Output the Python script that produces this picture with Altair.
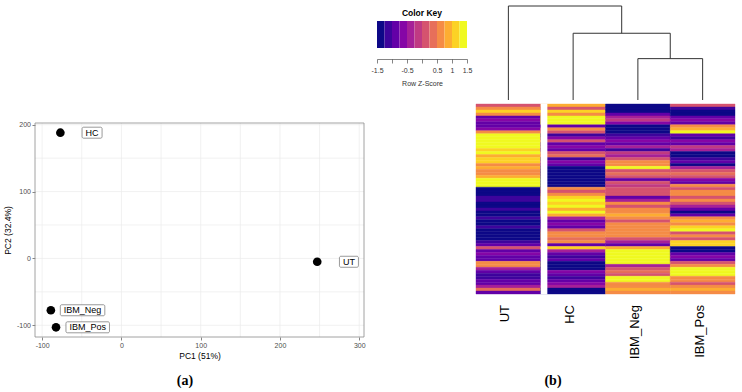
import altair as alt
import pandas as pd
import numpy as np

W, H = 742, 392

# ---------------- data ----------------
samples = ["HC", "UT", "IBM_Neg", "IBM_Pos"]
pc1 = [-77, 247, -89, -82.5]
pc2 = [188, -5, -77.5, -103]
pc1_major = [-100, 0, 100, 200, 300]
pc1_minor = [-50, 50, 150, 250]
pc2_major = [-100, 0, 100, 200]
pc2_minor = [-50, 50, 150]

heat_columns = ["UT", "HC", "IBM_Neg", "IBM_Pos"]
z_ut = [0.2, 0.7, 1.0, 0.6, -1.0, -0.7, -1.0, -0.9, -0.6, 0.7,
        1.5, 1.5, 1.5, 1.4, 1.5, 1.0, 1.3, 0.8, 1.2, 1.0,
        0.6, 0.8, 0.6, 0.5, 0.9, 1.4, 1.5, 1.3, -1.5, -1.5,
        -1.5, -1.1, -1.1, -1.5, -1.5, -1.1, -1.4, -1.5, -1.1, -1.5,
        -1.4, -1.1, -1.5, -1.5, -1.5, -1.5, -1.1, -1.0, 0.0, -1.0,
        -0.6, -1.0, -0.9, 0.5, 0.7, -0.5, -1.0, -1.1, -1.2, -1.0,
        -1.0, -0.4, 0.4, -0.9]
z_hc = [0.8, 0.2, 1.0, 0.6, 1.5, 1.5, 1.4, -1.0, 0.5, 0.1,
        -1.1, -0.6, 0.0, -0.9, -0.7, -1.0, 0.1, 0.4, -1.1, -0.6,
        -1.0, -1.5, -1.5, -1.5, -1.5, -1.5, -1.5, -1.5, 0.6, 0.2,
        0.7, 1.0, 1.4, 1.0, 1.3, 0.8, 1.5, 0.9, -0.4, -0.9,
        -0.6, -0.9, 0.2, 0.6, 0.7, 0.3, 0.5, -1.0, 1.2, -0.5,
        -1.0, -1.1, -0.9, -1.5, -1.5, -1.5, -0.6, -0.9, -1.1, -1.0,
        -0.6, -0.5, -1.5, -1.5]
z_ibm_neg = [-1.5, -1.5, -1.4, -0.9, -0.5, -0.2, -0.6, -1.5, -1.3, -1.5,
             -1.1, -0.9, -0.6, -1.0, -0.5, -1.2, -0.1, -0.4, 0.0, 0.5,
             0.7, 1.4, 0.1, 0.4, 0.0, -0.8, 0.1, -0.1, 0.2, 0.0,
             0.1, -1.0, -0.4, 0.5, 0.0, 0.7, 0.5, 0.9, 0.6, 0.2,
             0.5, 0.7, 0.6, 0.6, 0.5, 0.2, -0.3, -0.8, 0.8, 1.5,
             1.5, 1.5, 1.4, 1.5, -0.4, 0.1, 0.4, 0.0, 1.3, 1.4,
             0.7, 0.6, 0.9, 0.5]
z_ibm_pos = [0.0, -1.1, -1.5, -1.3, -0.9, -0.6, -1.0, 0.6, 0.9, 1.5,
             -1.0, -1.1, -0.7, -0.9, -0.2, -0.5, -1.5, -1.5, -1.2, -1.0,
             -1.3, -0.4, 0.0, 0.4, 0.1, -0.6, -0.9, 0.5, 0.2, 0.7,
             0.5, 0.2, 0.6, 0.1, -0.5, -1.0, -1.4, -1.0, 0.6, 0.8,
             0.5, 1.0, 1.4, 0.2, 0.5, 0.1, 1.2, 1.0, -1.5, -1.4,
             -1.0, -0.7, -0.9, 0.0, 0.5, 1.3, 1.5, 1.4, 0.6, 0.7,
             0.2, 0.5, 0.9, 0.6]

# hclust-style merge table (negative = leaf, positive = earlier merge)
merge_pairs = [(-3, -4), (-2, 1), (-1, 2)]
merge_heights = [0.44, 0.71, 1.0]

key_ticks = [-1.5, -1.0, -0.5, 0.0, 0.5, 1.0, 1.5]

# ---------------- styles / layout ----------------
plasma12 = ["#0D0887", "#3E049C", "#6300A7", "#8606A6", "#A62098", "#C03A83",
            "#D5536F", "#E76F5A", "#F58C46", "#FDAD32", "#FCD225", "#F0F921"]
FONT = "Liberation Sans"

PX_L, PX_R, PY_T, PY_B = 35, 364, 123, 337
XDOM, YDOM = [-109, 306], [-117.5, 202.5]


def xs():
    return alt.Scale(domain=XDOM, range=[PX_L, PX_R], nice=False, zero=False)


def ys():
    return alt.Scale(domain=YDOM, range=[PY_B, PY_T], nice=False, zero=False)


# ---------------- panel (a): PCA ----------------
vgrid = pd.DataFrame({"v": pc1_major + pc1_minor})
hgrid = pd.DataFrame({"v": pc2_major + pc2_minor})

vlines = alt.Chart(vgrid).mark_rule(color="#EBEBEB", strokeWidth=0.7).encode(
    x=alt.X("v:Q", scale=xs(), axis=None),
    y=alt.Y(datum=YDOM[0], scale=ys(), axis=None),
    y2=alt.Y2(datum=YDOM[1]),
)
hlines = alt.Chart(hgrid).mark_rule(color="#EBEBEB", strokeWidth=0.7).encode(
    y=alt.Y("v:Q", scale=ys(), axis=None),
    x=alt.X(datum=XDOM[0], scale=xs(), axis=None),
    x2=alt.X2(datum=XDOM[1]),
)
border = alt.Chart(pd.DataFrame({"a": [0]})).mark_rect(
    fill=None, stroke="#8C8C8C", strokeWidth=0.8).encode(
    x=alt.X(datum=XDOM[0], scale=xs(), axis=None), x2=alt.X2(datum=XDOM[1]),
    y=alt.Y(datum=YDOM[0], scale=ys(), axis=None), y2=alt.Y2(datum=YDOM[1]),
)

pts = pd.DataFrame({"sample": samples, "pc1": pc1, "pc2": pc2})
points = alt.Chart(pts).mark_circle(size=75, color="black", opacity=1).encode(
    x=alt.X("pc1:Q", scale=xs(), axis=alt.Axis(
        orient="bottom", offset=PY_B - H, values=pc1_major, grid=False, domain=False,
        tickSize=3, tickColor="#333333", tickWidth=0.6, labelFontSize=7,
        labelColor="#4D4D4D", labelFont=FONT, labelPadding=1.5,
        labelExpr="toString(datum.value)", labelFlush=False, labelOverlap=False,
        title="PC1 (51%)", titleFont=FONT, titleFontSize=8.5, titleFontWeight="normal",
        titleColor="black", titlePadding=3)),
    y=alt.Y("pc2:Q", scale=ys(), axis=alt.Axis(
        orient="left", offset=-PX_L, values=pc2_major, grid=False, domain=False,
        tickSize=3, tickColor="#333333", tickWidth=0.6, labelFontSize=7,
        labelColor="#4D4D4D", labelFont=FONT, labelPadding=1.5,
        labelExpr="toString(datum.value)", labelFlush=False, labelOverlap=False,
        title="PC2 (32.4%)", titleFont=FONT, titleFontSize=8.5, titleFontWeight="normal",
        titleColor="black", titlePadding=4)),
)

# label boxes (geom_label-like), nudged right
NUDGE = 40
LABEL_FS = 9
arial = {"H": 722, "C": 722, "U": 722, "T": 611, "I": 278, "B": 667, "M": 833,
         "_": 556, "N": 722, "e": 556, "g": 556, "P": 667, "o": 556, "s": 500}
ux = (XDOM[1] - XDOM[0]) / (PX_R - PX_L)
uy = (YDOM[1] - YDOM[0]) / (PY_B - PY_T)
lab = pts.copy()
lab["lx"] = lab["pc1"] + NUDGE
wpx = lab["sample"].map(lambda s: sum(arial.get(c, 600) for c in s) * LABEL_FS / 1000 + 7)
lab["x1"] = lab["lx"] - wpx * ux / 2
lab["x2"] = lab["lx"] + wpx * ux / 2
lab["y1"] = lab["pc2"] - 5.5 * uy
lab["y2"] = lab["pc2"] + 5.5 * uy

boxes = alt.Chart(lab).mark_rect(fill="white", stroke="#555555", strokeWidth=0.6,
                                 cornerRadius=1.5).encode(
    x=alt.X("x1:Q", scale=xs(), axis=None), x2="x2:Q",
    y=alt.Y("y1:Q", scale=ys(), axis=None), y2="y2:Q",
)
labels = alt.Chart(lab).mark_text(fontSize=LABEL_FS, font=FONT, color="black",
                                  align="center", baseline="middle").encode(
    x=alt.X("lx:Q", scale=xs(), axis=None),
    y=alt.Y("pc2:Q", scale=ys(), axis=None),
    text="sample:N",
)

# ---------------- panel (b): heatmap ----------------
NROW = len(z_ut)


def hx():
    return alt.Scale(domain=[-0.5, 3.5], range=[476, 735], nice=False, zero=False)


def hy():
    return alt.Scale(domain=[-0.5, NROW - 0.5], range=[104, 294], nice=False, zero=False)


def cscale():
    return alt.Scale(type="quantize", domain=[-1.5, 1.5], range=plasma12, nice=False, zero=False)


recs = []
for ci, vals in enumerate([z_ut, z_hc, z_ibm_neg, z_ibm_pos]):
    for ri, v in enumerate(vals):
        recs.append({"c": ci, "r": ri, "z": v})
hdf = pd.DataFrame(recs)
hdf["x1"] = hdf["c"] - 0.5
hdf["x2"] = hdf["c"] + 0.5
hdf["y1"] = hdf["r"] - 0.5
hdf["y2"] = hdf["r"] + 0.5

cells = alt.Chart(hdf).mark_rect(strokeWidth=0.4).encode(
    x=alt.X("x1:Q", scale=hx(), axis=None), x2="x2:Q",
    y=alt.Y("y1:Q", scale=hy(), axis=None), y2="y2:Q",
    color=alt.Color("z:Q", scale=cscale(), legend=None),
    stroke=alt.Stroke("z:Q", scale=cscale(), legend=None),
)
sep = alt.Chart(pd.DataFrame({"a": [0]})).mark_rule(
    color="white", strokeWidth=6.6, xOffset=3.3).encode(
    x=alt.X(datum=0.5, scale=hx(), axis=None),
    y=alt.Y(datum=-0.7, scale=hy(), axis=None), y2=alt.Y2(datum=NROW - 0.3),
)
coldf = pd.DataFrame({"c": list(range(4)), "name": heat_columns})
collabels = alt.Chart(coldf).mark_text(
    angle=270, align="right", baseline="middle", fontSize=13, font=FONT,
    color="black", dx=-11, dy=-3).encode(
    x=alt.X("c:Q", scale=hx(), axis=None),
    y=alt.Y(datum=NROW - 0.5, scale=hy(), axis=None),
    text="name:N",
)

# dendrogram
node_x, node_h = {}, {}
segs = []


def node(n):
    if n < 0:
        return float(-n - 1), 0.0
    return node_x[n], node_h[n]


for k, ((a, b), h) in enumerate(zip(merge_pairs, merge_heights), start=1):
    xa, ha = node(a)
    xb, hb = node(b)
    segs += [(xa, xa, ha, h), (xb, xb, hb, h), (xa, xb, h, h)]
    node_x[k], node_h[k] = (xa + xb) / 2, h
ddf = pd.DataFrame(segs, columns=["x1", "x2", "y1", "y2"])
dendro = alt.Chart(ddf).mark_rule(color="#333333", strokeWidth=1).encode(
    x=alt.X("x1:Q", scale=hx(), axis=None), x2="x2:Q",
    y=alt.Y("y1:Q", scale=alt.Scale(domain=[0, 1], range=[100, 6], nice=False, zero=False),
            axis=None), y2="y2:Q",
)

# colour key
edges = np.linspace(-1.5, 1.5, len(plasma12) + 1)
kdf = pd.DataFrame({"x1": edges[:-1], "x2": edges[1:]})
kdf["mid"] = (kdf["x1"] + kdf["x2"]) / 2
key = alt.Chart(kdf).mark_rect().encode(
    x=alt.X("x1:Q", scale=alt.Scale(domain=[-1.5, 1.5], range=[377, 467], nice=False, zero=False),
            axis=alt.Axis(
        orient="bottom", offset=59 - H, values=key_ticks, grid=False, domain=True,
        domainColor="#333333", domainWidth=0.6, tickSize=4, tickColor="#333333",
        tickWidth=0.6, labelFontSize=7, labelColor="#333333", labelFont=FONT,
        labelPadding=3, labelFlush=False, labelOverlap=False,
        labelExpr="datum.value == -1 || datum.value == 0 ? '' : toString(datum.value)",
        title="Row Z-Score", titleFont=FONT, titleFontSize=7, titleFontWeight="normal",
        titleColor="#333333", titlePadding=6)),
    x2="x2:Q",
    y=alt.Y(datum=0, scale=alt.Scale(domain=[0, 1], range=[48, 21], nice=False, zero=False),
            axis=None),
    y2=alt.Y2(datum=1),
    color=alt.Color("mid:Q", scale=cscale(), legend=None),
)

# ---------------- annotations ----------------
ann = pd.DataFrame({"t": ["(a)", "(b)"], "px": [185, 553]})
captions = alt.Chart(ann).mark_text(font="Liberation Serif", fontWeight="bold",
                                    fontSize=14, color="black", baseline="middle").encode(
    x=alt.X("px:Q", scale=None, axis=None),
    y=alt.value(381),
    text="t:N",
)
keytitle = alt.Chart(pd.DataFrame({"t": ["Color Key"]})).mark_text(
    font=FONT, fontWeight="bold", fontSize=8.5, color="black", baseline="middle").encode(
    x=alt.value(422), y=alt.value(13), text="t:N")

chart = alt.layer(
    vlines, hlines, border, boxes, labels, points,
    cells, sep, collabels, dendro, key, captions, keytitle,
).resolve_scale(
    x="independent", y="independent", color="independent", stroke="independent"
).properties(
    width=W, height=H, autosize=alt.AutoSizeParams(type="none"), padding=0,
).configure_view(stroke=None)

chart.save("out.html", embed_options={"renderer": "svg", "actions": False})
